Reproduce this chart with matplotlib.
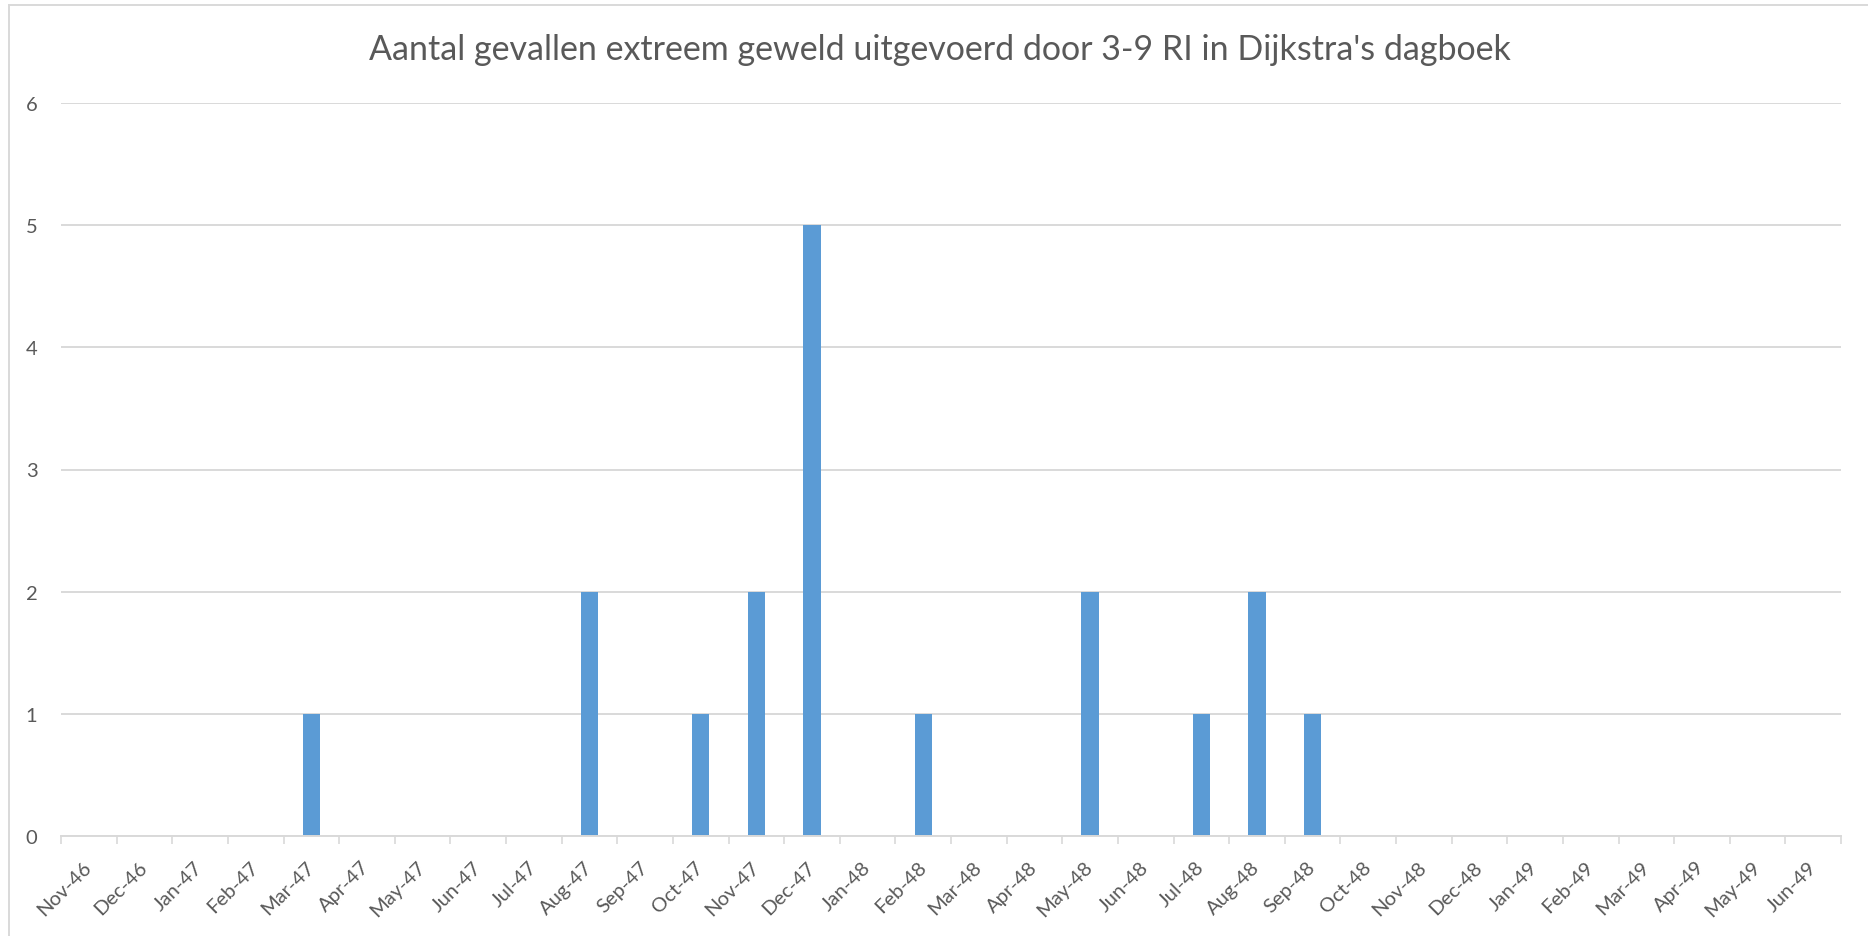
import matplotlib.pyplot as plt
from matplotlib.lines import Line2D

# === data ===
months = ["Nov-46", "Dec-46", "Jan-47", "Feb-47", "Mar-47", "Apr-47", "May-47", "Jun-47",
          "Jul-47", "Aug-47", "Sep-47", "Oct-47", "Nov-47", "Dec-47", "Jan-48", "Feb-48",
          "Mar-48", "Apr-48", "May-48", "Jun-48", "Jul-48", "Aug-48", "Sep-48", "Oct-48",
          "Nov-48", "Dec-48", "Jan-49", "Feb-49", "Mar-49", "Apr-49", "May-49", "Jun-49"]
counts = [0, 0, 0, 0, 1, 0, 0, 0,
          0, 2, 0, 1, 2, 5, 0, 1,
          0, 0, 2, 0, 1, 2, 1, 0,
          0, 0, 0, 0, 0, 0, 0, 0]
y_ticks = [0, 1, 2, 3, 4, 5, 6]
title = "Aantal gevallen extreem geweld uitgevoerd door 3-9 RI in Dijkstra's dagboek"

# === style ===
plt.rcParams['font.family'] = ['Lato', 'DejaVu Sans']
text_col = '#595959'
grid_col = '#D9D9D9'
bar_col = '#5B9BD5'

W, H = 1868, 937
fig = plt.figure(figsize=(W / 100, H / 100), dpi=100)
ax = fig.add_axes([61 / W, 1 - 837 / H, (1841 - 61) / W, (837 - 104) / H])

x = list(range(len(months)))
ax.bar(x, counts, width=0.31, color=bar_col, zorder=3)

ax.set_xlim(-0.5, len(months) - 0.5)
ax.set_ylim(0, 6)
ax.set_yticks(y_ticks)
ax.yaxis.grid(True, color=grid_col, lw=1.4, zorder=0)
ax.tick_params(axis='y', length=0, pad=17, labelsize=14.5, labelcolor=text_col)

# labels at category centres, tick marks at category edges
ax.set_xticks(x)
ax.set_xticklabels(months, rotation=45, ha='right', va='center', rotation_mode='anchor')
ax.tick_params(axis='x', which='major', length=0, pad=20, labelsize=14.5, labelcolor=text_col)
ax.set_xticks([i - 0.5 for i in range(len(months) + 1)], minor=True)
ax.tick_params(axis='x', which='minor', length=5.5, width=1.2, color=grid_col)

for s in ['top', 'right', 'left']:
    ax.spines[s].set_visible(False)
ax.spines['bottom'].set_color(grid_col)
ax.spines['bottom'].set_linewidth(1.4)
ax.spines['bottom'].set_zorder(4)

fig.text(940 / W, 1 - 50 / H, title, ha='center', va='center', fontsize=24.5, color=text_col)

# chart area border (left and top edges visible)
fig.add_artist(Line2D([9 / W, 9 / W], [0, 1 - 6 / H], color=grid_col, lw=1.4))
fig.add_artist(Line2D([9 / W, 1], [1 - 6 / H, 1 - 6 / H], color=grid_col, lw=1.4))

fig.savefig('out.png', dpi=100)
